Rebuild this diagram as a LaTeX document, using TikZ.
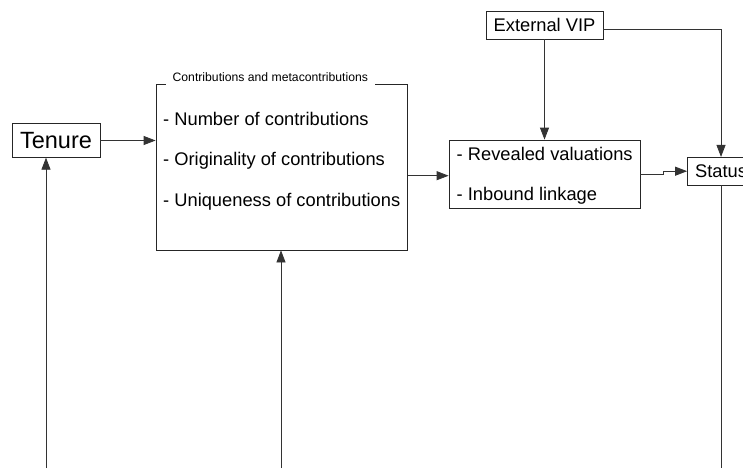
\documentclass[tikz,border=0pt]{standalone}
\usepackage{fontspec}
\setmainfont{Liberation Sans}
\usetikzlibrary{arrows.meta}
\begin{document}
\begin{tikzpicture}[x=1pt,y=-1pt,
  box/.style={draw=black!85, line width=0.8pt, rectangle, inner sep=0pt},
  conn/.style={draw=black!80, line width=0.8pt},
  arr/.style={conn,-{Triangle[length=12pt,width=9pt]}},
  big/.style={font=\fontsize{18.3}{21}\selectfont},
  txt/.style={inner sep=0pt, anchor=base west, big},
]
\useasboundingbox (0,0) rectangle (743,468);
\clip (0,0) rectangle (743,468);

% nodes
\node[box, minimum width=88pt, minimum height=33.5pt, font=\fontsize{23.5}{27}\selectfont] (tenure) at (56,140.5) {Tenure};
\node[box, minimum width=251.5pt, minimum height=166pt] (contrib) at (281.75,167) {};
\node[fill=white, inner xsep=7pt, inner ysep=4pt, font=\fontsize{12.2}{14}\selectfont] (title) at (270.3,77) {Contributions and metacontributions};
\node[txt] (n1) at (163,125) {- Number of contributions};
\node[txt] (n2) at (163,165) {- Originality of contributions};
\node[txt] (n3) at (163,206) {- Uniqueness of contributions};

\node[box, minimum width=191pt, minimum height=68pt] (reveal) at (544.5,174) {};
\node[txt] (r1) at (456.5,160) {- Revealed valuations};
\node[txt] (r2) at (456.5,200) {- Inbound linkage};

\node[box, minimum width=117pt, minimum height=28pt, big] (vip) at (544.5,25) {External VIP};
\node[box, minimum width=67pt, minimum height=27.7pt, big] (status) at (721,171.2) {Status};

% free ends
\coordinate (b1) at (46,468);
\coordinate (b2) at (281,468);
\coordinate (b3) at (721,468);

% connectors
\draw[arr] (tenure.east) -- (tenure.east -| contrib.west);
\draw[arr] (b1) -- (b1 |- tenure.south);
\draw[arr] (b2) -- (b2 |- contrib.south);
\draw[arr] ([yshift=-1.7pt]contrib.east |- reveal.west) -- ([yshift=-1.7pt]reveal.west);
\draw[arr] (vip.south) -- (reveal.north);
\draw[arr] ([yshift=-4pt]vip.east) -| (status.north);
\draw[arr] (reveal.east) -- ++(23,0) |- (status.west);
\draw[conn] (status.south) -- (b3);
\end{tikzpicture}
\end{document}
